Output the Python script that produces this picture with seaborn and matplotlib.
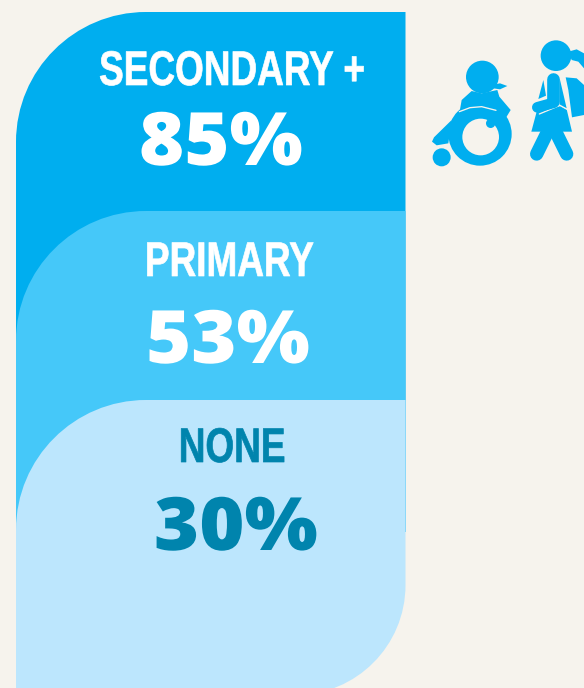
import matplotlib
matplotlib.use("Agg")
import matplotlib.pyplot as plt
import seaborn as sns
import pandas as pd
from matplotlib.patches import Circle, PathPatch, Polygon
from matplotlib.path import Path
from matplotlib.patheffects import AbstractPathEffect
from matplotlib.transforms import Affine2D

levels = ["SECONDARY +", "PRIMARY", "NONE"]
percents = [85, 53, 30]

panel_colors = ["#00AEEF", "#45C8F9", "#BCE6FD"]
text_colors = ["white", "white", "#0084AD"]
bg = "#F6F3ED"
icon = "#00AEEF"
K = 0.5523


class Stretch(AbstractPathEffect):
    # squeeze or widen a text around its centre, optional stroke to fatten it
    def __init__(self, sx, fat=0):
        super().__init__()
        self.sx = sx
        self.fat = fat

    def draw_path(self, renderer, gc, tpath, affine, rgbFace=None):
        mid = (tpath.get_extents().x0 + tpath.get_extents().x1) / 2
        local = Affine2D().translate(-mid, 0).scale(self.sx, 1).translate(mid, 0)
        gc0 = renderer.new_gc()
        gc0.copy_properties(gc)
        if self.fat:
            gc0.set_linewidth(self.fat)
            gc0.set_foreground(rgbFace)
        renderer.draw_path(gc0, tpath, local + affine, rgbFace)
        gc0.restore()


sns.set_theme(style="white")
fig = plt.figure(figsize=(5.84, 6.88), dpi=100, facecolor=bg)

# pixel canvas for everything that is not the band scale
ax = fig.add_axes([0, 0, 1, 1], zorder=2)
ax.set_xlim(0, 584)
ax.set_ylim(688, 0)
ax.axis("off")

# band scale for the three panels, bars get reshaped below
bands = fig.add_axes([16 / 584, 1 - (12 + 3 * 194) / 688, 389.5 / 584, 3 * 194 / 688], zorder=1)
df = pd.DataFrame({"level": levels, "full": [1, 1, 1]})
sns.barplot(data=df, y="level", x="full", hue="level", palette=panel_colors, width=1,
            legend=False, ax=bands, order=levels)
bands.set_xlim(0, 1)
bands.axis("off")
fig.canvas.draw()


def panel_path(x0, x1, top, bottom, r, r_bottom=0):
    verts = [(x0, top + r), (x0, top + r - K * r), (x0 + r - K * r, top), (x0 + r, top), (x1, top)]
    codes = [Path.MOVETO, Path.CURVE4, Path.CURVE4, Path.CURVE4, Path.LINETO]
    if r_bottom:
        verts += [(x1, bottom - r_bottom), (x1, bottom - r_bottom + K * r_bottom),
                  (x1 - r_bottom + K * r_bottom, bottom), (x1 - r_bottom, bottom)]
        codes += [Path.LINETO, Path.CURVE4, Path.CURVE4, Path.CURVE4]
    else:
        verts.append((x1, bottom))
        codes.append(Path.LINETO)
    verts += [(x0, bottom), (x0, top + r)]
    codes += [Path.LINETO, Path.CLOSEPOLY]
    return Path(verts, codes)


tier_nudge = [0, 5, 0]
height = fig.bbox.height
bars = list(bands.patches)
for i, bar in enumerate(bars):
    box = bar.get_window_extent()
    top = height - box.y1 + tier_nudge[i]
    last = i == len(bars) - 1
    bottom = 695 if last else 532
    shape = panel_path(box.x0, box.x1, top, bottom, 130, 110 if last else 0)
    ax.add_patch(PathPatch(shape, fc=panel_colors[i], ec="none", zorder=i + 1))
    bar.remove()

# labels
label_pos = [(232, 85), (229, 276), (232, 462)]
value_pos = [(221, 165), (228, 363), (236, 550)]
for i in range(3):
    t = ax.text(label_pos[i][0], label_pos[i][1], levels[i], ha="center", va="baseline",
                family=["Liberation Sans", "DejaVu Sans"], weight="bold", fontsize=35,
                color=text_colors[i], zorder=10)
    t.set_path_effects([Stretch(0.76, 0.5)])
    v = ax.text(value_pos[i][0], value_pos[i][1], f"{percents[i]}%", ha="center", va="baseline",
                family=["Open Sans", "DejaVu Sans"], weight=800, fontsize=53,
                color=text_colors[i], zorder=10)
    v.set_path_effects([Stretch(1.05)])


# icons, traced in zoom units
def zx(x):
    return 420 + x / 3


def zy(y):
    return 30 + y / 3


def poly(points, color=icon, z=11):
    ax.add_patch(Polygon([(zx(a), zy(b)) for a, b in points], fc=color, ec="none", zorder=z))


def dot(x, y, r, color=icon, z=11):
    ax.add_patch(Circle((zx(x), zy(y)), r / 3, fc=color, ec="none", zorder=z))


def stroke(points, w, color=icon, z=11):
    ax.plot([zx(a) for a, b in points], [zy(b) for a, b in points], color=color, lw=w / 3 * 0.72,
            solid_capstyle="round", solid_joinstyle="round", zorder=z)


# wheelchair
dot(187, 141, 49)
poly([(215, 165), (240, 160), (262, 168), (240, 178), (220, 175)])
poly([(155, 183), (185, 190), (232, 180), (238, 200), (272, 240), (255, 268), (230, 250), (180, 235), (118, 250), (125, 210)])
dot(180, 312, 95)
dot(182, 321, 55, bg, 12)
dot(212, 280, 14, icon, 13)
stroke([(118, 245), (150, 233), (185, 230), (228, 241)], 4, bg, 12)
poly([(95, 270), (85, 340), (50, 346), (36, 335), (42, 322)])
dot(65, 382, 27)

# girl
dot(408, 77, 46)
poly([(445, 65), (470, 58), (492, 70), (492, 115), (475, 95), (455, 90)])
poly([(437, 142), (470, 145), (492, 165), (492, 255), (456, 262), (445, 180)])
poly([(370, 150), (378, 197), (355, 207)])
poly([(419, 145), (440, 235), (419, 226)])
poly([(350, 245), (420, 228), (440, 238), (456, 305), (334, 305)])
stroke([(400, 148), (400, 212)], 38)
stroke([(402, 218), (352, 232)], 32, icon, 13)
stroke([(358, 252), (420, 226), (441, 238)], 4, bg, 12)
stroke([(383, 305), (350, 372)], 40)
stroke([(407, 305), (440, 372)], 40)

fig.savefig("out.png", dpi=100, facecolor=bg)
